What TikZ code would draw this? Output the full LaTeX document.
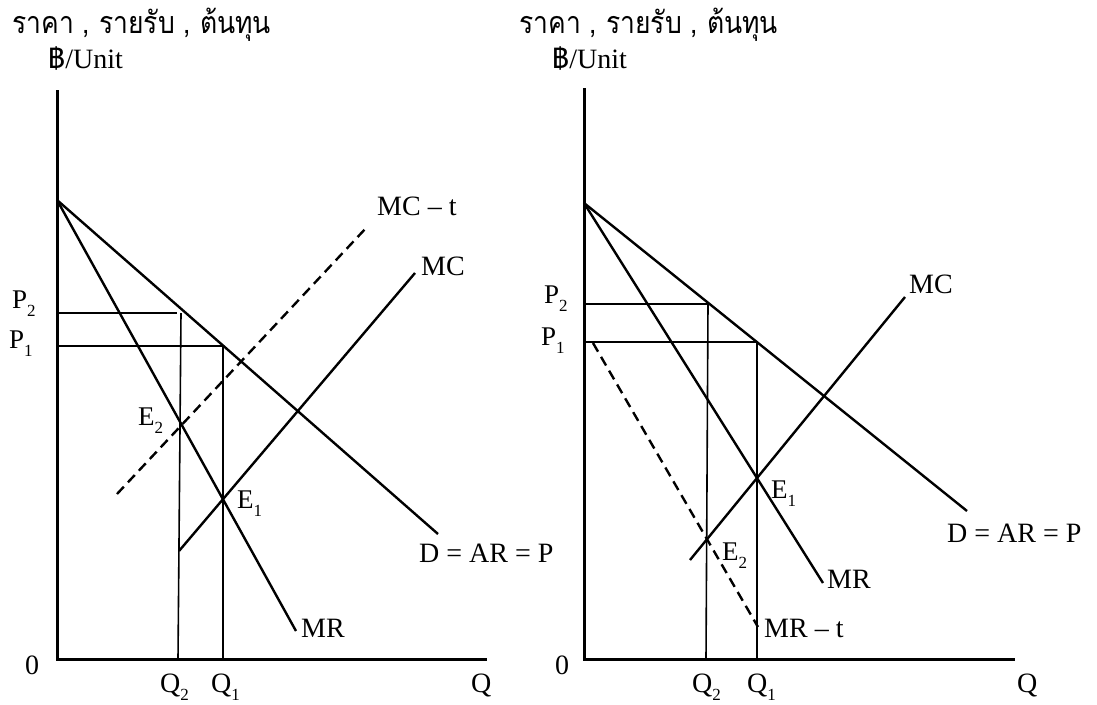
\documentclass[tikz,border=0pt]{standalone}
\usepackage{graphicx}
\usepackage{fontspec}
\setmainfont{Liberation Serif}
\newfontfamily\thaifont[Script=Thai]{Loma}
\newcommand{\lsub}[1]{\raisebox{-0.3em}{\fontsize{17}{17}\selectfont #1}}
\newcommand{\tall}[1]{\scalebox{1}[1.15]{#1}}
\begin{document}
\begin{tikzpicture}[x=1pt,y=-1pt,
  lbl/.style={inner sep=0pt, anchor=base west, font=\fontsize{28}{30}\selectfont},
  slbl/.style={inner sep=0pt, anchor=base west, font=\fontsize{27}{29}\selectfont},
  ttl/.style={inner sep=0pt, anchor=base west, font=\fontsize{26.5}{28}\selectfont\thaifont},
  unit/.style={inner sep=0pt, anchor=base west, font=\fontsize{28}{30}\selectfont},
  axis/.style={line width=3pt},
  curve/.style={line width=2.4pt},
  guide/.style={line width=1.6pt},
  dcurve/.style={line width=2.4pt, dash pattern=on 10pt off 6pt}]
\useasboundingbox (0,0) rectangle (1097,704);

% ---------- left panel ----------
\coordinate (LO) at (57,659);
\coordinate (Ltop) at (57,90);
\coordinate (Lx) at (487,659);
\coordinate (LA) at (57,200);
\coordinate (LD) at (438,534);
\coordinate (LMR) at (296,631);
\coordinate (LP2) at (57,313);
\coordinate (LP2e) at (177,313);
\coordinate (LQ2t) at (181,313);
\coordinate (LQ2b) at (178,659);
\coordinate (LP1) at (57,346);
\coordinate (LQ1t) at (223,346);
\coordinate (LQ1b) at (223,659);
\coordinate (LMCb) at (179,551);
\coordinate (LMCt) at (415,273);
\coordinate (LMCtb) at (117,494);
\coordinate (LMCtt) at (367,227);

\draw[axis] (Ltop) -- (LO) -- (Lx);
\draw[curve] (LA) -- (LD);
\draw[curve] (LA) -- (LMR);
\draw[curve] (LMCb) -- (LMCt);
\draw[dcurve] (LMCtb) -- (LMCtt);
\draw[guide] (LP2) -- (LP2e);
\draw[guide] (LQ2t) -- (LQ2b);
\draw[guide] (LP1) -- (LQ1t) -- (LQ1b);

\node[ttl] (Lt1) at (12,33) {\tall{ราคา , รายรับ , ต้นทุน}};
\node[unit] (Lt2) at (48,68) {{\thaifont ฿}/Unit};
\node[slbl] (LP2l) at (12,308) {P\lsub{2}};
\node[slbl] (LP1l) at (9,348) {P\lsub{1}};
\node[lbl] (L0) at (25,674) {0};
\node[lbl] (LQ2l) at (160,692) {Q\lsub{2}};
\node[lbl] (LQ1l) at (211,692) {Q\lsub{1}};
\node[lbl] (LQl) at (471,692) {Q};
\node[lbl] (LMRl) at (301,637) {MR};
\node[lbl] (LMCtl) at (377,215) {MC – t};
\node[lbl] (LMCl) at (421,275) {MC};
\node[lbl] (LDl) at (419,562) {D = AR = P};
\node[slbl] (LE2) at (138,425) {E\lsub{2}};
\node[slbl] (LE1) at (237,508) {E\lsub{1}};

% ---------- right panel ----------
\coordinate (RO) at (584,659);
\coordinate (Rtop) at (584,88);
\coordinate (Rx) at (1015,659);
\coordinate (RA) at (584,203);
\coordinate (RD) at (967,511);
\coordinate (RMR) at (823,583);
\coordinate (RMCb) at (690,560);
\coordinate (RMCt) at (905,297);
\coordinate (RMRtt) at (593,343);
\coordinate (RMRtb) at (758,627);
\coordinate (RP2) at (584,304);
\coordinate (RQ2t) at (708,304);
\coordinate (RQ2b) at (706,659);
\coordinate (RP1) at (584,342);
\coordinate (RQ1t) at (757,342);
\coordinate (RQ1b) at (757,659);

\draw[axis] (Rtop) -- (RO) -- (Rx);
\draw[curve] (RA) -- (RD);
\draw[curve] (RA) -- (RMR);
\draw[curve] (RMCb) -- (RMCt);
\draw[dcurve] (RMRtt) -- (RMRtb);
\draw[guide] (RP2) -- (RQ2t) -- (RQ2b);
\draw[guide] (RP1) -- (RQ1t) -- (RQ1b);

\node[ttl] (Rt1) at (519,33) {\tall{ราคา , รายรับ , ต้นทุน}};
\node[unit] (Rt2) at (552,68) {{\thaifont ฿}/Unit};
\node[slbl] (RP2l) at (544,303) {P\lsub{2}};
\node[slbl] (RP1l) at (541,345) {P\lsub{1}};
\node[lbl] (R0) at (555,674) {0};
\node[lbl] (RQ2l) at (692,692) {Q\lsub{2}};
\node[lbl] (RQ1l) at (747,692) {Q\lsub{1}};
\node[lbl] (RQl) at (1017,692) {Q};
\node[lbl] (RMRl) at (827,588) {MR};
\node[lbl] (RMRtl) at (764,637) {MR – t};
\node[lbl] (RMCl) at (909,293) {MC};
\node[lbl] (RDl) at (947,542) {D = AR = P};
\node[slbl] (RE1) at (771,498) {E\lsub{1}};
\node[slbl] (RE2) at (722,560) {E\lsub{2}};
\end{tikzpicture}
\end{document}
